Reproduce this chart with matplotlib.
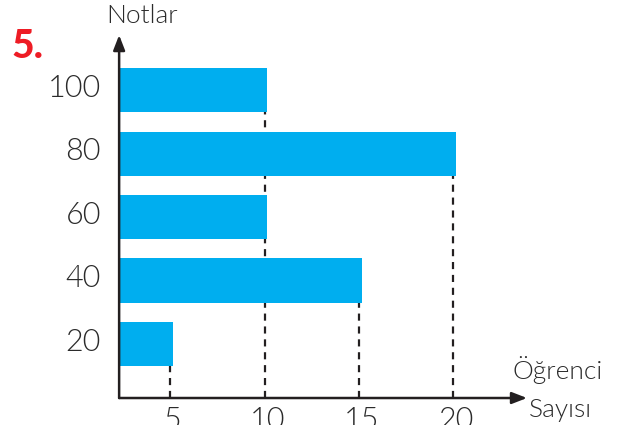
import matplotlib
matplotlib.use("Agg")
import matplotlib.pyplot as plt
import matplotlib.transforms as mtransforms

# 数据
notlar = ["20", "40", "60", "80", "100"]
ogrenci_sayisi = [5, 15, 10, 20, 10]
x_ticks = [5, 10, 15, 20]

BAR_COLOR = "#00AEEF"
AXIS_COLOR = "#231F20"
TEXT_COLOR = "#2b2b2b"
FONT = "Lato"
WEIGHT = 300

fig = plt.figure(figsize=(6.27, 4.25), dpi=100)
ax = fig.add_axes([0.190, 0.0635, 0.6505, 0.854])

y_pos = list(range(1, len(notlar) + 1))
ax.barh(y_pos, ogrenci_sayisi, height=0.70, left=0, color=BAR_COLOR, zorder=3)

# 虚线：每个数值从最高的那根柱子往下画到 x 轴
for val in sorted(set(ogrenci_sayisi)):
    top = max(p for p, v in zip(y_pos, ogrenci_sayisi) if v == val)
    ax.vlines(val - 0.15, 0.15, top - 0.35, colors=AXIS_COLOR, linestyles=(0, (3.2, 2.6)),
              linewidth=1.6, zorder=2)

ax.set_xlim(2.14, 23.75)
ax.set_ylim(0.15, 5.87)

for s in ax.spines.values():
    s.set_visible(False)

# 坐标轴箭头
arrow = dict(arrowstyle="-|>,head_length=0.9,head_width=0.35", color=AXIS_COLOR, lw=1.8,
             shrinkA=0, shrinkB=0)
ax.annotate("", xy=(1.0, 0), xytext=(0, 0), xycoords="axes fraction",
            arrowprops=arrow, annotation_clip=False)
ax.annotate("", xy=(0, 1.0), xytext=(0, 0), xycoords="axes fraction",
            arrowprops=arrow, annotation_clip=False)

ax.set_xticks(x_ticks)
ax.set_xticklabels([str(t) for t in x_ticks], fontsize=22, family=FONT, fontweight=WEIGHT,
                   color=TEXT_COLOR)
ax.set_yticks(y_pos)
ax.set_yticklabels(notlar, fontsize=22, family=FONT, fontweight=WEIGHT, color=TEXT_COLOR)
ax.tick_params(axis="x", length=0, pad=6)
ax.tick_params(axis="y", length=0, pad=13)
up = mtransforms.ScaledTranslation(0, 5 / 100, fig.dpi_scale_trans)
for lbl in ax.get_yticklabels():
    lbl.set_transform(lbl.get_transform() + up)

fig.text(142 / 627, 1 - 16 / 425, "Notlar", fontsize=19, family=FONT, fontweight=WEIGHT,
         ha="center", va="center", color=TEXT_COLOR)
fig.text(558 / 627, 1 - 370 / 425, "Öğrenci", fontsize=19, family=FONT, fontweight=WEIGHT,
         ha="center", va="center", color=TEXT_COLOR)
fig.text(560 / 627, 1 - 410 / 425, "Sayısı", fontsize=19, family=FONT, fontweight=WEIGHT,
         ha="center", va="center", color=TEXT_COLOR)
fig.text(27 / 627, 1 - 46 / 425, "5.", fontsize=28, family=FONT, fontweight="black",
         ha="center", va="center", color="#EE1C25")

fig.savefig("out.png", dpi=100)
